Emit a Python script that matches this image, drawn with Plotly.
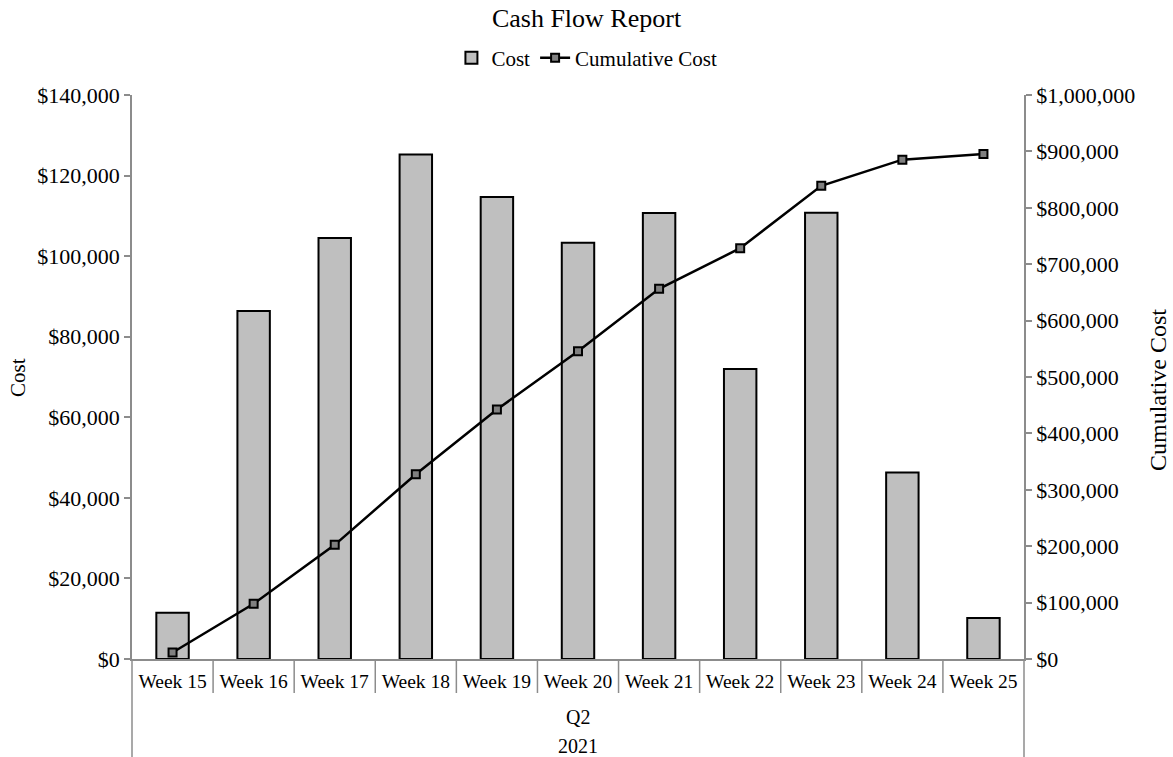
import plotly.graph_objects as go

# Weekly cash flow figures
weeks = ["Week 15", "Week 16", "Week 17", "Week 18", "Week 19", "Week 20",
         "Week 21", "Week 22", "Week 23", "Week 24", "Week 25"]
cost = [11500, 86400, 104500, 125200, 114700, 103300, 110700, 72000, 110800, 46300, 10200]
cumulative_cost = [11500, 97900, 202400, 327600, 442300, 545600, 656300, 728300, 839100, 885400, 895600]
quarter_label = "Q2"
year_label = "2021"

FONT = "Liberation Serif"
AXIS_GREY = "#8c8c8c"

fig = go.Figure()
fig.add_bar(
    x=weeks, y=cost, name="Cost",
    marker=dict(color="#bfbfbf", line=dict(color="black", width=2)),
)
fig.add_scatter(
    x=weeks, y=cumulative_cost, name="Cumulative Cost", yaxis="y2",
    mode="lines+markers",
    line=dict(color="black", width=2.5),
    marker=dict(symbol="square", size=8, color="#808080",
                line=dict(color="black", width=2)),
)

W, H = 1173, 757
L, R, T, B = 132, 149, 95, 98
plot_w = W - L - R
plot_h = H - T - B

def py(px_below_axis):
    """Convert pixels below the x axis to paper y coordinates."""
    return -px_below_axis / plot_h

shapes = []
# category separators under the axis
for i in range(len(weeks) - 1):
    shapes.append(dict(type="line", xref="x", yref="paper",
                       x0=i + 0.5, x1=i + 0.5, y0=0, y1=py(34),
                       line=dict(color=AXIS_GREY, width=1.5)))
# outer borders of the category table
for xp in (0, 1):
    shapes.append(dict(type="line", xref="paper", yref="paper",
                       x0=xp, x1=xp, y0=0, y1=py(98),
                       line=dict(color=AXIS_GREY, width=1.5)))

annotations = [
    dict(text=quarter_label, xref="paper", yref="paper", x=0.5, y=py(58),
         yanchor="middle", showarrow=False,
         font=dict(size=20, family=FONT, color="black")),
    dict(text=year_label, xref="paper", yref="paper", x=0.5, y=py(87),
         yanchor="middle", showarrow=False,
         font=dict(size=20, family=FONT, color="black")),
    dict(text="Cost", xref="paper", yref="paper", x=(18 - L) / plot_w, y=0.5,
         xanchor="center", yanchor="middle",
         textangle=-90, showarrow=False, font=dict(size=21, family=FONT, color="black")),
    dict(text="Cumulative Cost", xref="paper", yref="paper",
         x=1 + (1158 - (W - R)) / plot_w, y=(H - B - 390) / plot_h,
         xanchor="center", yanchor="middle",
         textangle=-90, showarrow=False, font=dict(size=24, family=FONT, color="black")),
]

fig.update_layout(
    width=W, height=H,
    margin=dict(l=L, r=R, t=T, b=B),
    paper_bgcolor="white", plot_bgcolor="white",
    font=dict(family=FONT, color="black", size=21),
    title=dict(text="Cash Flow Report", x=0.5, xanchor="center",
               yref="container", y=1 - 18 / H, yanchor="middle",
               font=dict(size=26, family=FONT, color="black")),
    legend=dict(orientation="h", x=0.51, xanchor="center",
                y=1 + (T - 58) / plot_h, yanchor="middle",
                font=dict(size=21, family=FONT, color="black"),
                itemwidth=30, tracegroupgap=0),
    bargap=0.6,
    showlegend=True,
    shapes=shapes,
    annotations=annotations,
    xaxis=dict(
        range=[-0.5, len(weeks) - 0.5],
        showline=True, linecolor=AXIS_GREY, linewidth=1.5,
        ticks="", showgrid=False, ticklabelstandoff=4,
        tickfont=dict(size=19.5, family=FONT, color="black"),
    ),
    yaxis=dict(
        range=[0, 140000], dtick=20000, tickprefix="$", tickformat=",d",
        showline=True, linecolor=AXIS_GREY, linewidth=1.5,
        ticks="outside", ticklen=6, tickcolor=AXIS_GREY, tickwidth=1.5,
        showgrid=False, zeroline=False,
        tickfont=dict(size=22, family=FONT, color="black"),
    ),
    yaxis2=dict(
        overlaying="y", side="right",
        range=[0, 1000000], dtick=100000, tickprefix="$", tickformat=",d",
        showline=True, linecolor=AXIS_GREY, linewidth=1.5,
        ticks="outside", ticklen=6, tickcolor=AXIS_GREY, tickwidth=1.5,
        showgrid=False, zeroline=False,
        tickfont=dict(size=22, family=FONT, color="black"),
    ),
)

fig.write_html("out.html")
